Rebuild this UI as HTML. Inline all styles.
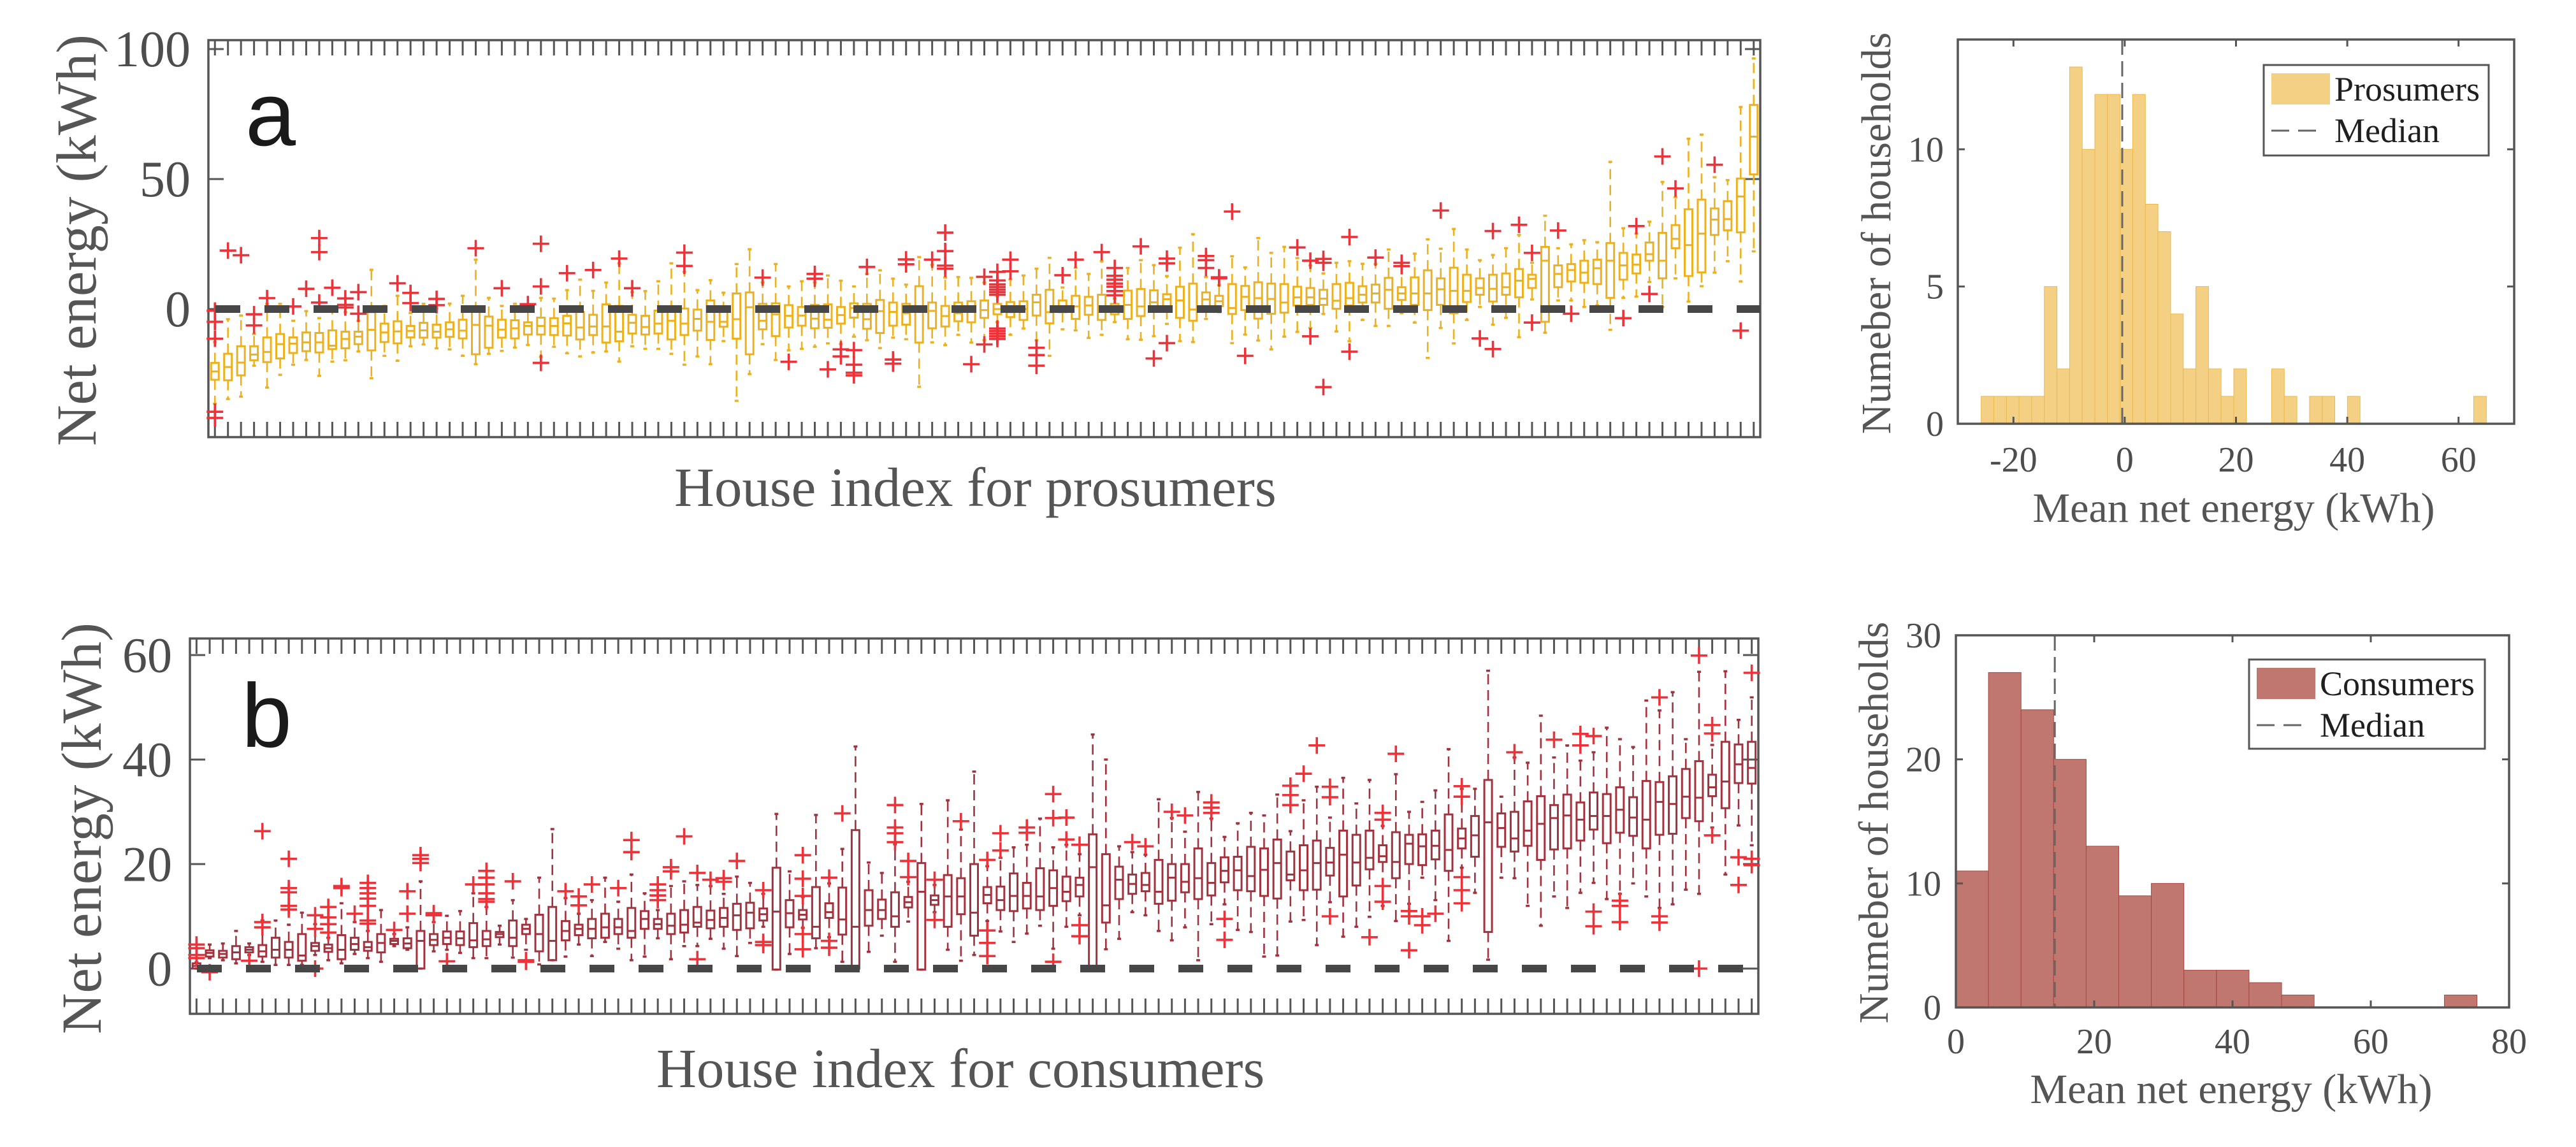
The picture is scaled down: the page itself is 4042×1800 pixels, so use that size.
<!DOCTYPE html>
<html><head><meta charset="utf-8"><title>Net energy boxplots and histograms</title>
<style>
html,body{margin:0;padding:0;background:#fff;}
svg{display:block;font-family:"Liberation Serif","Times New Roman",serif;}
</style></head>
<body>
<svg id="fig" xmlns="http://www.w3.org/2000/svg" width="4042" height="1800" viewBox="0 0 4042 1800">
<rect x="0" y="0" width="4042" height="1800" fill="#fff"/>
<g id="pa"></g>
<g id="pb"></g>
<g id="ha"></g>
<g id="hb"></g>
</svg>
<script>
// ---------- Panel a: prosumers (q3, q1, median, upper whisker, lower whisker) ----------
const aQ3=[-20.7,-17.2,-14.3,-14.3,-10.9,-9.6,-10.9,-9,-9.2,-8.2,-8.7,-8.7,-1.2,-5.6,-4.7,-6.5,-5.3,-6,-5.1,-4.1,-1.1,-2.9,-4.1,-4.3,-5.1,-3.3,-3.5,-2.6,-1.1,-2.2,1.8,1.2,-2.2,-2.6,-0.6,-0.6,0.2,-0.2,3.3,-1.1,6,6.4,2,2.2,1.5,0.8,1.6,1.8,0.8,2.2,2,3.5,2.5,2,8.8,2.5,1.2,2.5,3,3.3,2,2.7,3,5.5,7.4,3.3,5.1,4.7,5.5,2,7.1,7.7,7.2,5.7,8.6,9.8,6.4,5.1,9.6,8.9,10.3,9.8,9.6,8.6,8.1,7.4,9.6,10.1,8.8,9.4,12,8.4,12.2,14.9,11.8,15.9,13.2,11.8,13.2,13.7,15.4,13.2,23.9,16.8,17.3,18.6,19,25.4,21.6,21,25.6,29.3,32.3,38.4,42.1,38.7,41.5,50.2,78.5];
const aQ1=[-27.2,-27.4,-25.5,-19.7,-20.4,-19,-16.9,-16.2,-16.7,-15.4,-15.1,-13.5,-15.9,-12.7,-13.2,-10.9,-11,-11,-10.7,-11.3,-17.4,-14.9,-11,-11.3,-9.8,-9.8,-10,-10.2,-11.7,-10,-12.9,-12.4,-9.4,-9.8,-9.4,-11.7,-10,-8.3,-11.9,-6.8,-11.4,-17.4,-7.8,-10.4,-7.1,-6.4,-7.4,-7.2,-5.6,-3.3,-7.6,-9.2,-6.4,-6,-12.9,-7.4,-6.7,-4.7,-5.1,-3.4,-2,-3.1,-4.2,-2.5,-5.5,-1.2,-3.8,-2.2,-4.2,-2,-3.8,-2.7,0,0,-3.4,-4.5,0.7,1.1,-1.9,-0.4,-3.7,-1.8,-1.4,1.4,1.6,1.6,0.1,1.4,2.5,2.5,0.1,3.5,1.6,-0.4,1.6,-1.6,2.7,5.5,2.9,5.5,4.5,8.1,-4.9,8.4,10.6,10.1,9.6,4.3,11.3,13.7,18.6,11.8,23.4,12.7,14.1,28.5,30.3,29.5,51.8];
const aMed=[-24,-22.3,-20.6,-17.5,-16.5,-13.5,-13.3,-12.8,-12.8,-14.1,-11.5,-10.6,-8,-9,-8.6,-8.4,-8.2,-8.7,-7.8,-8.3,-6.1,-6.4,-7.9,-7.4,-6.5,-6.5,-6.5,-5.5,-7.1,-6.7,-6.7,-8.7,-5.3,-6.9,-5.6,-4.5,-5.6,-3.8,-4.9,-4.9,-3.9,0.7,-4.5,-2,-2.6,-2.5,-3.7,-4.1,-2.3,0.4,-3.9,-0.8,-1.1,-1.6,0.4,-0.7,-2.7,-1.6,-0.8,-0.4,0,-1.2,0,2.6,-1.2,1,1,1.4,0.4,0,1.6,1,2.6,3.8,3.3,-0.2,3.7,3,0.4,4.7,4.2,3.9,2.5,4.5,4.5,4,3.2,4.2,5.5,6,7.4,6,6,6,7.6,7,7,8.1,7.8,8.4,10.9,11.6,18.6,13.5,15,14,15.7,18.6,16.8,17.1,21.1,18.6,27,24.6,29,34.4,34.6,43.3,66.3];
const aHi=[-12.7,-3.9,-2.5,-9.6,2,2,-4.5,-0.8,-3.5,-0.8,-1.2,-4.5,15.1,1.2,5.1,-1.5,2,0.2,2.1,5.1,19,4.3,1.2,2,0.4,4.3,4,7.3,11.3,7,10.2,17.6,6.5,6.9,10.7,17.6,14.3,7.3,11.1,6.3,17.3,23,10.2,17.3,8.7,10.7,10.2,12.9,10.9,8.7,13.5,14.9,11.7,9.4,20,17,12.1,12.3,12,10.2,5,11.4,12.9,15.5,19.7,8.3,15.9,13.5,18.4,4,15.8,18.8,16.9,12.7,23.6,28.8,12.3,9.2,20.3,16,27.3,21.6,23.9,19.6,16.8,13.7,17.8,18.4,17.4,17.3,22.9,17.3,21.3,26.8,23.2,30.8,22.9,18.8,20.8,23.4,28.5,17.8,35.9,23.4,24.9,26.5,25.7,56.6,31.1,29,33.6,48.9,43,65.5,67.1,50.7,49.6,77.7,96.4];
const aLo=[-36.4,-34.6,-33.7,-21.8,-30.2,-25.3,-21.4,-19.6,-25.7,-20.2,-19.7,-16.3,-26.6,-18,-19.9,-14.3,-13.6,-15.1,-15.5,-18,-21.2,-17.2,-16.1,-14.8,-13.8,-18.4,-14.5,-17,-18.2,-16.7,-16.3,-20.2,-14.3,-15.3,-15.3,-17.2,-21.4,-18.2,-21.2,-12.3,-35.3,-25,-13.5,-19.6,-15.9,-15.3,-14.5,-13.2,-13.5,-10.6,-12,-15,-11,-11.6,-29.9,-12.8,-13.9,-9.9,-12.9,-12,-5,-9.9,-7.5,-12,-18,-7.8,-8.2,-11.1,-9.9,-5,-11.6,-11.8,-10.4,-5.7,-12.3,-12.7,-3.8,-1.2,-13.1,-9.8,-12.1,-15.5,-10.6,-8.8,-7.3,-1.9,-8.6,-12.4,-4.2,-6.5,-6.5,-1.6,-5.2,-18.8,-7.3,-13.2,-4.2,0.8,-6,-3.4,-10.8,3.7,-9.1,3.3,3.3,0.8,1.4,-8,4.3,4.8,10.4,0.8,11.8,2.9,8.8,14,18.4,10.6,22.2];
const aOutliers=[[1,-0.6],[1,-4.9],[1,-11.4],[1,-39.5],[1,-41.9],[2,22.5],[3,20.7],[4,-2],[4,-6.3],[5,4.2],[7,1],[8,7.8],[9,27.3],[9,21.9],[9,2.5],[10,8.2],[11,4.1],[11,1.6],[11,0.6],[12,6.5],[12,-1.8],[15,9.9],[16,6.2],[16,2.3],[18,3.9],[18,1.5],[21,23.4],[23,8],[25,1.9],[26,25.1],[26,8.7],[26,-20.7],[28,13.8],[30,15],[32,19.4],[33,8],[37,21.7],[37,16.6],[43,12.1],[45,-20.3],[47,13.5],[47,11.7],[48,-23.2],[49,-15.5],[49,-18.2],[50,-15.8],[50,-21.4],[50,-24.5],[50,-25.5],[51,16.2],[53,-19.4],[53,-21],[54,19.1],[54,17.2],[56,19],[57,29.4],[57,22.3],[57,16.7],[57,15.5],[59,-21.2],[60,12.4],[60,-13.6],[61,14.3],[61,11],[61,9.5],[61,8.5],[61,7.5],[61,6.5],[61,5.5],[61,-7.5],[61,-8.5],[61,-9.5],[61,-10.5],[61,-11.5],[62,19],[62,14.5],[64,-14.9],[64,-17.7],[64,-21.8],[66,13],[67,19],[69,21.9],[70,15.8],[70,12.8],[70,11.3],[70,9.8],[70,8.6],[70,6.9],[70,5.3],[72,24.1],[73,-19],[74,19.4],[74,17.6],[74,-13.1],[77,20.4],[77,18.8],[77,15.8],[78,12.2],[78,11.8],[79,37.5],[80,-18],[84,23.7],[85,18.6],[85,-10.5],[86,19.3],[86,17.8],[86,-30],[88,27.7],[88,-16.4],[90,19.8],[92,17.8],[92,16.5],[95,37.9],[98,-11.3],[99,30],[99,-15.4],[101,32.4],[102,21.6],[102,-5.2],[104,30.2],[105,-1.8],[109,-3.5],[110,31.9],[111,5.8],[112,58.7],[113,46.4],[116,55.5],[118,-8.3]];
const aYTicks=[0,50,100];

// ---------- Panel b: consumers ----------
const bQ3=[1,3.5,3.4,4.3,4.1,4.5,5.9,5.1,6.6,4.9,4.6,6.4,5.9,5.1,6.6,5.7,5.8,7.2,6.6,7.1,7.1,8.7,7.2,7,9.2,8.4,10.3,11.8,9.1,8.4,9.5,10.5,9.5,11.6,11,9.5,10.5,11.2,11.8,11.1,11.6,12.4,12.6,11.5,19.3,13.1,11.2,15.6,12.5,15.5,26.5,15,13.2,14.6,13.7,20.2,14,17.9,17.3,20,15.6,15.7,18.2,16.4,19.2,18.8,17.6,17.4,25.7,21.9,19.5,18,18.3,20.8,20,20,23,20.2,21.3,21.4,23.3,23,24.7,22.4,23.6,24.5,23.1,26.4,25.6,26.4,23.6,26.1,25.6,25.7,26.4,29.5,26.8,29.2,36.1,29.7,30,32,33,31.3,33.3,31.8,33.7,33.4,34.7,32.8,35.9,35.7,36.8,38.2,39.7,37.1,43.4,42.9,43.4];
const bQ1=[0,2.3,2.1,1.8,3.1,2.3,2.1,2.1,1.5,3.4,3.2,1.8,3.6,3.4,3.1,4.7,3.9,0,4.5,4.7,4.5,4.1,4.3,6,4.3,6.6,3.3,1.6,5.4,6.4,5.8,5.9,6.6,5.9,7.6,7.6,6.6,6.9,8,7.7,8,7.4,7.7,9.2,-0.2,7.9,9.4,5.8,9.7,6.5,0,8.2,9.5,8,11.7,-0.2,12.2,8,10.4,6.3,12.5,11.2,11,11.5,11.2,12,12.9,13.8,-0.2,8.8,13.3,14.3,14.8,12.4,13,14.6,13.3,14,16.5,15,14.8,13.9,13.4,16.9,15,15.1,17.8,13.8,15.9,19,20.4,17.3,20,19.8,20.9,18.7,23,21.4,7,23.3,22.4,23.5,20.8,22.8,23,24.5,26.6,24,26,25.4,23,25.6,25.8,28.8,28.2,33,30.7,35.5,35.4];
const bMed=[0.5,3,2.8,3.1,3.6,3.3,3.6,3.6,2.5,4.3,3.9,3.6,4.7,4.1,4.9,5.3,4.8,5.3,5.5,5.9,5.8,5.4,5.6,6.6,5.9,7.6,6.6,5.3,7.2,7.6,7.6,7.9,7.9,7.2,9.5,8.5,8.2,8.4,8.8,9.3,9.7,10.2,10.7,10.4,10.9,10.6,10.3,8,10.8,9.4,8,11.2,11.2,10,12.7,14.7,13.1,13.8,13.8,10.7,14.1,13.1,13.9,13.9,13.8,15.4,14.7,16,19.4,12.1,17,16.2,16,14.7,17.4,16.6,17.3,16.4,18.7,18.8,17.7,18.9,20.2,18,18.8,20.2,20.3,21.8,20.3,21.2,21.5,20.4,23.9,23.4,23.5,22.7,24.9,25.5,28,26.9,24.9,26.4,27.7,28.8,29.3,28.5,29.2,29.2,30.4,28.9,28.5,31.9,31.5,32.9,32.7,34.7,35.8,39.1,38.4];
const bHi=[1.2,4.6,4.8,7.2,4.8,9.2,9.2,8.4,10.7,8.5,5.9,12.5,8.9,7.2,11.2,6.6,7.9,16.7,8.9,10.1,11,14.4,11.8,8.2,13.1,9.5,17.4,26.7,13.5,10.5,13.1,17.4,12.8,18,14.4,11.2,15.8,16.7,16,15.8,14.3,17.6,16.4,14.3,29.6,18.6,13.7,29.4,16.3,22.9,42.5,20.3,18.3,23.8,16.6,31.5,16,32.2,26.6,37.7,19.6,21.2,23.2,23.7,28.7,23.2,23.7,21.9,44.8,40,23.4,22.3,21.8,32.4,28.8,26.2,33.8,28.7,25.2,27.8,29.8,29.3,33.3,26.3,32.2,34.8,28.9,36.5,31.6,36.1,27.3,37.2,30,31.9,34.1,42,34.4,34.4,57,32.9,40.4,39.4,48.4,40.4,42.7,39.8,41.4,46.1,43.9,42.4,51.3,49.4,52.9,43.9,56.8,42.8,56.9,47.6,51.9];
const bLo=[0,2,1.6,1,2.6,1.3,0.7,0.7,0.7,2.6,1.6,1,2.8,2,1.3,4.3,3.6,0,3.3,3.6,3,2,2,4.6,2.1,3.6,0.8,1.6,2.3,4.6,2.4,5.1,3.8,1.6,2.3,5.8,1.8,4.3,4.3,5.7,3.8,2.4,4.9,8,-0.2,2.8,7.8,3.9,6,1.3,-0.2,3.2,6.3,1.3,9,-0.2,10.8,3.6,1.5,2.6,9.1,7.1,5.1,6.7,8.2,3.8,8,10.2,-0.2,3.7,5.7,10.8,10.2,7.2,5.4,7.9,1.6,8.5,12.3,7.4,7,2.3,2.5,9,9.3,4.5,12.7,6.1,8,9.9,12,9.1,12.4,17.4,13.1,5.3,19.3,14.5,1.7,17.4,17.3,12,8.2,13.8,11.6,14.5,16.4,13.3,14.3,16.3,13.8,11.6,12.3,15.1,14.3,27,18,27.4,23.6];
const bOutliers=[[1,2],[1,2.6],[1,3.9],[1,4.6],[2,-0.7],[5,1.5],[6,26.3],[6,8.9],[6,7.9],[8,21],[8,15.4],[8,14.6],[8,12],[8,11.3],[10,7.6],[10,10.2],[10,0],[11,11.8],[11,9.8],[11,8.5],[11,6.9],[12,15.8],[12,15.4],[13,10.5],[14,16.4],[14,15.4],[14,14.4],[14,13.4],[14,12],[14,9.2],[14,8.6],[16,7.4],[17,14.8],[17,10.5],[18,21.7],[18,21],[18,20.2],[19,10.6],[19,10.2],[20,1.4],[22,16.1],[23,18.7],[23,17.4],[23,16.1],[23,14.4],[23,13.3],[23,12.8],[25,16.7],[26,1.6],[26,1.3],[29,14.8],[30,13.8],[30,12.1],[31,16.1],[33,15.4],[34,24.6],[34,22.3],[36,16.1],[36,15],[36,14],[36,13.1],[37,19.4],[37,18.6],[38,25.3],[39,18.3],[39,1.8],[40,17],[41,17.3],[41,16.6],[42,20.6],[44,15],[44,5.1],[44,4.5],[47,21.7],[47,17.2],[47,13.9],[47,6.6],[47,3.7],[49,17.4],[49,5.3],[49,4],[50,29.7],[54,31.3],[54,27],[54,25.9],[54,24.2],[55,20.6],[55,17.5],[57,17],[57,9.3],[59,28.2],[61,20.8],[61,7.3],[61,4.9],[61,2.4],[62,25.9],[62,22.6],[64,27],[64,26],[66,33.4],[66,28.8],[66,1.3],[67,28.9],[67,24.7],[68,23.7],[68,8.3],[68,6.2],[72,24.2],[73,23.4],[75,30],[76,29.3],[78,31.8],[78,30.8],[78,29.8],[79,9.5],[79,5.5],[84,35],[84,33.2],[84,31.3],[85,37.3],[86,42.7],[87,34.8],[87,32.8],[87,10],[90,6],[91,29.8],[91,28.5],[91,15.8],[91,12.8],[92,41.1],[93,11],[93,10],[93,3.5],[94,10],[94,8.3],[95,10.5],[97,34.9],[97,32.9],[97,17.5],[97,15],[97,12.5],[101,41.4],[104,43.8],[106,44.9],[106,42.7],[107,44.5],[107,10.9],[107,8.1],[109,13],[109,12],[109,8.9],[112,51.9],[112,10],[112,8.8],[115,59.9],[115,0],[116,46.6],[116,45],[116,25.5],[118,21.3],[118,16],[119,56.6],[119,21],[119,19.8]];
const bYTicks=[0,20,40,60];

// ---------- Histograms ----------
const hProsCounts=[1,1,1,1,1,5,2,13,10,12,12,10,12,8,7,4,2,5,2,1,2,0,0,2,1,0,1,1,0,1,0,0,0,0,0,0,0,0,0,1];
const hProsBin=[-25.8,2.27];   // [first edge, bin width]
const hProsMedian=[-0.45];
const hProsXTicks=[-20,0,20,40,60];
const hProsYTicks=[0,5,10];
const hConsCounts=[11,27,24,20,13,9,10,3,3,2,1,0,0,0,0,1];
const hConsBin=[0,4.71];
const hConsMedian=[14.3];
const hConsXTicks=[0,20,40,60,80];
const hConsYTicks=[0,10,20,30];

const NS='http://www.w3.org/2000/svg';
function mk(tag,attrs,parent){const e=document.createElementNS(NS,tag);for(const k in attrs)e.setAttribute(k,attrs[k]);parent.appendChild(e);return e;}

function boxPanel(g,cfg,Q3,Q1,MED,HI,LO,OUT,yt,tag){
  const n=Q3.length;
  const sx=(cfg.R-cfg.L)/n;
  const X=i=>cfg.L+(i-0.5)*sx;
  const Y=v=>cfg.y0-v*cfg.k;
  // axes box
  const ax=mk('rect',{x:cfg.L,y:cfg.T,width:cfg.R-cfg.L,height:cfg.B-cfg.T,fill:'none',stroke:'#555',"stroke-width":3.5},g);
  
  
  // x ticks
  for(let i=1;i<=n;i++){
    const t1=mk('line',{x1:X(i),x2:X(i),y1:cfg.B,y2:cfg.B-24,stroke:'#555',"stroke-width":3},g);
    
    
    const t2=mk('line',{x1:X(i),x2:X(i),y1:cfg.T,y2:cfg.T+24,stroke:'#555',"stroke-width":3},g);
    
    
  }
  // y ticks & labels
  yt.forEach(v=>{
    const l1=mk('line',{x1:cfg.L,x2:cfg.L+24,y1:Y(v),y2:Y(v),stroke:'#555',"stroke-width":3},g);
    
    
    const l2=mk('line',{x1:cfg.R,x2:cfg.R-24,y1:Y(v),y2:Y(v),stroke:'#555',"stroke-width":3},g);
    
    
    const t=mk('text',{x:cfg.lx,y:Y(v),dy:'0.34em',"text-anchor":'end',"font-size":cfg.tf,fill:'#4d4d4d'},g);
    t.textContent=v;
    
    
  });
  const bw=12;
  for(let i=0;i<n;i++){
    const x=X(i+1);
    const bg=mk('g',{},g);
    
    
    mk('line',{x1:x,x2:x,y1:Y(Q3[i]),y2:Y(HI[i]),stroke:cfg.col,"stroke-width":2.6,"stroke-dasharray":'16 9'},bg);
    mk('line',{x1:x,x2:x,y1:Y(Q1[i]),y2:Y(LO[i]),stroke:cfg.col,"stroke-width":2.6,"stroke-dasharray":'16 9'},bg);
    mk('line',{x1:x-3,x2:x+3,y1:Y(HI[i]),y2:Y(HI[i]),stroke:cfg.col,"stroke-width":3.5},bg);
    mk('line',{x1:x-3,x2:x+3,y1:Y(LO[i]),y2:Y(LO[i]),stroke:cfg.col,"stroke-width":3.5},bg);
    const top=Y(Math.max(Q3[i],Q1[i])),h=Math.abs(Y(Q1[i])-Y(Q3[i]));
    mk('rect',{x:x-bw/2,y:top,width:bw,height:Math.max(h,1),fill:'none',stroke:cfg.col,"stroke-width":3},bg);
    mk('line',{x1:x-bw/2,x2:x+bw/2,y1:Y(MED[i]),y2:Y(MED[i]),stroke:cfg.col,"stroke-width":3},bg);
  }
  OUT.forEach(p=>{
    const x=X(p[0]),y=Y(p[1]);
    const o=mk('path',{d:`M${x-13} ${y}H${x+13}M${x} ${y-13}V${y+13}`,stroke:'#ee3239',"stroke-width":3.6,fill:'none'},g);
    
    
  });
  const z=mk('line',{x1:cfg.L+11,x2:cfg.R,y1:Y(0),y2:Y(0),stroke:'#474747',"stroke-width":12,"stroke-dasharray":'39 38'},g);
  
  
}

boxPanel(document.getElementById('pa'),{L:327,R:2762,T:63,B:686,y0:485,k:4.08,col:'#edb120',lx:299,tf:80},aQ3,aQ1,aMed,aHi,aLo,aOutliers,aYTicks,'prosumer');
boxPanel(document.getElementById('pb'),{L:298,R:2759,T:1002,B:1591,y0:1520,k:8.2,col:'#a2323e',lx:270,tf:78},bQ3,bQ1,bMed,bHi,bLo,bOutliers,bYTicks,'consumer');

function hist(g,cfg,counts,bin,med,xt,yt,tag,legendLabel){
  const X=v=>cfg.L+(v-cfg.x0)/(cfg.x1-cfg.x0)*(cfg.R-cfg.L);
  const Y=v=>cfg.B-v/cfg.ymax*(cfg.B-cfg.T);
  counts.forEach((c,i)=>{
    if(c<=0)return;
    const a=bin[0]+i*bin[1],b=a+bin[1];
    const r=mk('rect',{x:X(a),y:Y(c),width:X(b)-X(a),height:Y(0)-Y(c),fill:cfg.fill,stroke:cfg.edge,"stroke-width":1},g);
    
    
  });
  const m=mk('line',{x1:X(med[0]),x2:X(med[0]),y1:cfg.T,y2:cfg.B,stroke:'#666',"stroke-width":3,"stroke-dasharray":'24 10'},g);
  
  
  const f=mk('rect',{x:cfg.L,y:cfg.T,width:cfg.R-cfg.L,height:cfg.B-cfg.T,fill:'none',stroke:'#555',"stroke-width":3.5},g);
  
  
  xt.forEach(v=>{
    const t1=mk('line',{x1:X(v),x2:X(v),y1:cfg.B,y2:cfg.B-11,stroke:'#555',"stroke-width":3},g);
    
    
    const t2=mk('line',{x1:X(v),x2:X(v),y1:cfg.T,y2:cfg.T+11,stroke:'#555',"stroke-width":3},g);
    
    
    const t=mk('text',{x:X(v),y:cfg.xly,"text-anchor":'middle',"font-size":56,fill:'#4d4d4d'},g);
    t.textContent=v;
    
    
  });
  yt.forEach(v=>{
    const t1=mk('line',{x1:cfg.L,x2:cfg.L+11,y1:Y(v),y2:Y(v),stroke:'#555',"stroke-width":3},g);
    
    
    const t2=mk('line',{x1:cfg.R,x2:cfg.R-11,y1:Y(v),y2:Y(v),stroke:'#555',"stroke-width":3},g);
    
    
    const t=mk('text',{x:cfg.ylx,y:Y(v),dy:'0.34em',"text-anchor":'end',"font-size":56,fill:'#4d4d4d'},g);
    t.textContent=v;
    
    
  });
  // legend
  const lg=mk('g',{},g);
  
  
  const L=cfg.leg;
  mk('rect',{x:L.x,y:L.y,width:L.w,height:L.h,fill:'#fff',stroke:'#555',"stroke-width":3},lg);
  const p=mk('rect',{x:L.x+12,y:L.y+13,width:92,height:49,fill:cfg.fill},lg);
  
  
  const t1=mk('text',{x:L.x+111,y:L.y+56,"font-size":54,fill:'#1f1f1f'},lg);
  t1.textContent=legendLabel;
  
  
  const ml=mk('line',{x1:L.x+12,x2:L.x+92,y1:L.y+103,y2:L.y+103,stroke:'#666',"stroke-width":3,"stroke-dasharray":'28 14'},lg);
  
  
  const t2=mk('text',{x:L.x+111,y:L.y+121,"font-size":54,fill:'#1f1f1f'},lg);
  t2.textContent='Median';
  
  
}

hist(document.getElementById('ha'),{L:3072,R:3945,T:62,B:665,x0:-30,x1:70,ymax:14,fill:'#f3d083',edge:'#eeb94a',xly:740,ylx:3050,leg:{x:3552,y:102,w:353,h:142}},hProsCounts,hProsBin,hProsMedian,hProsXTicks,hProsYTicks,'prosumer-hist','Prosumers');
hist(document.getElementById('hb'),{L:3069,R:3937,T:997,B:1581,x0:0,x1:80,ymax:30,fill:'#c0776f',edge:'#a8453f',xly:1653,ylx:3046,leg:{x:3529,y:1035,w:370,h:140}},hConsCounts,hConsBin,hConsMedian,hConsXTicks,hConsYTicks,'consumer-hist','Consumers');
</script>
<!-- static labels -->
<svg style="position:absolute;left:0;top:0" width="4042" height="1800" xmlns="http://www.w3.org/2000/svg">
<text x="385" y="228" font-family="Liberation Sans, Arial, sans-serif" font-size="142" fill="#1a1a1a">a</text>
<text x="379" y="1172" font-family="Liberation Sans, Arial, sans-serif" font-size="142" fill="#1a1a1a">b</text>
<text transform="translate(150,377) rotate(-90)" text-anchor="middle" font-family="Liberation Serif, serif" font-size="89" fill="#555">Net energy (kWh)</text>
<text transform="translate(158,1300) rotate(-90)" text-anchor="middle" font-family="Liberation Serif, serif" font-size="89" fill="#555">Net energy (kWh)</text>
<text x="1058" y="794" font-family="Liberation Serif, serif" font-size="87" fill="#555">House index for prosumers</text>
<text x="1030" y="1706" font-family="Liberation Serif, serif" font-size="87" fill="#555">House index for consumers</text>
<text transform="translate(2966,366) rotate(-90)" text-anchor="middle" font-family="Liberation Serif, serif" font-size="66" fill="#555">Numeber of households</text>
<text transform="translate(2962,1291) rotate(-90)" text-anchor="middle" font-family="Liberation Serif, serif" font-size="66" fill="#555">Numeber of households</text>
<text x="3505" y="819" text-anchor="middle" font-family="Liberation Serif, serif" font-size="66" fill="#555">Mean net energy (kWh)</text>
<text x="3501" y="1731" text-anchor="middle" font-family="Liberation Serif, serif" font-size="66" fill="#555">Mean net energy (kWh)</text>
</svg>
</body></html>
